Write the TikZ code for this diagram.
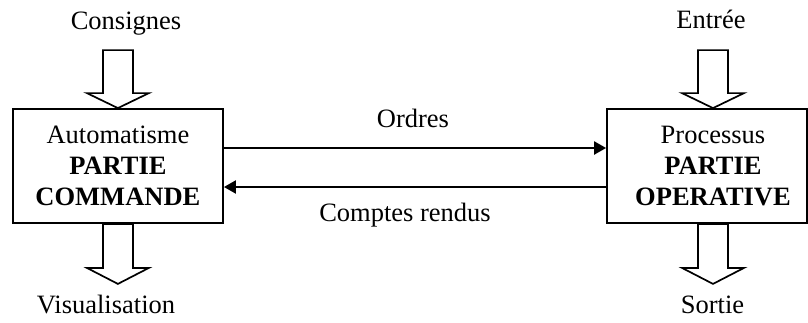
\documentclass[tikz,border=0pt]{standalone}
\usepackage{fontspec}
\setmainfont{Liberation Serif}
\usetikzlibrary{arrows.meta,calc}
\begin{document}
\begin{tikzpicture}[x=1pt,y=-1pt,
  every node/.style={font=\fontsize{26.5}{31}\selectfont, inner sep=0pt},
  box/.style={draw, line width=1.8pt, rectangle},
  conn/.style={line width=2.3pt, -{Triangle[length=12pt,width=13pt]}},
  blockarrow/.style={draw, line width=1.7pt, fill=white, line join=miter}]
\useasboundingbox (0,0) rectangle (808,322);
% boxes
\node[box, minimum width=210.3pt, minimum height=114pt] (A) at (117.9,166) {};
\node[box, minimum width=200pt, minimum height=114pt] (B) at (707,166) {};
\node[align=center] (At) at (117.9,166) {Automatisme\\\textbf{PARTIE}\\\textbf{COMMANDE}};
\node[align=center] (Bt) at (713,166) {Processus\\\textbf{PARTIE}\\\textbf{OPERATIVE}};
% outer labels
\node[anchor=base] (cons) at (126,29) {Consignes};
\node[anchor=base] (visu) at (106,313) {Visualisation};
\node[anchor=base] (entr) at (711,28) {Entrée};
\node[anchor=base] (sort) at (712.5,313) {Sortie};
% connector labels
\node[anchor=base] (ord) at (413,127) {Ordres};
\node[anchor=base] (cr) at (405,221) {Comptes rendus};
% connectors
\coordinate (o1) at ($(A.east)+(0,-18)$);
\coordinate (o2) at ($(B.west)+(0,-18)$);
\coordinate (c1) at ($(A.east)+(0,21)$);
\coordinate (c2) at ($(B.west)+(0,21)$);
\draw[conn] (o1) -- (o2);
\draw[white, line width=2.9pt] ($(ord.base |- o1)+(-56,0)$) -- ($(ord.base |- o1)+(60,0)$);
\draw[line width=1.1pt] ($(ord.base |- o1)+(-56,0)$) -- ($(ord.base |- o1)+(60,0)$);
\draw[conn] (c2) -- (c1);
% block arrows
\coordinate (t1) at (A.north);
\coordinate (t2) at (A.south);
\coordinate (t3) at (Bt |- B.north);
\coordinate (t4) at (Bt |- B.south);
\draw[blockarrow] (t1) -- ++(-31,-15) -- ++(16,0) -- ++(0,-43) -- ++(30,0) -- ++(0,43) -- ++(16,0) -- cycle;
\draw[blockarrow] ($(t2)+(0,60)$) -- ++(-31,-16) -- ++(16,0) -- ++(0,-44) -- ++(30,0) -- ++(0,44) -- ++(16,0) -- cycle;
\draw[blockarrow] (t3) -- ++(-31,-15) -- ++(16,0) -- ++(0,-43) -- ++(30,0) -- ++(0,43) -- ++(16,0) -- cycle;
\draw[blockarrow] ($(t4)+(0,60)$) -- ++(-31,-16) -- ++(16,0) -- ++(0,-44) -- ++(30,0) -- ++(0,44) -- ++(16,0) -- cycle;
\end{tikzpicture}
\end{document}
